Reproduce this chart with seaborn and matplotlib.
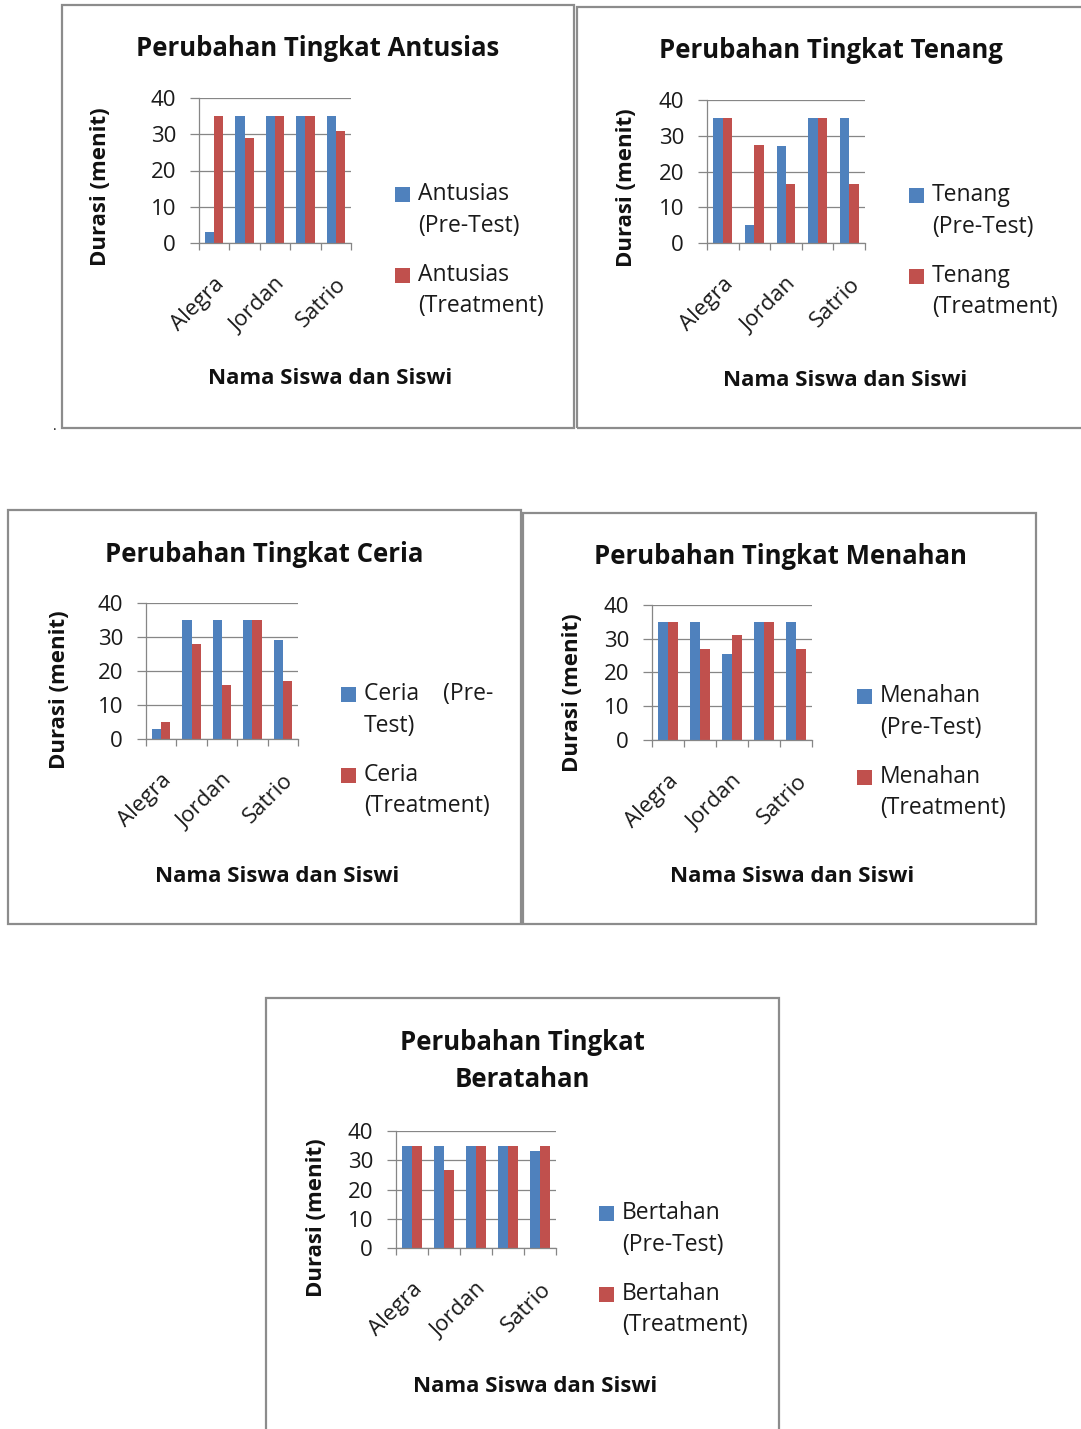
import matplotlib
matplotlib.use("Agg")
import matplotlib.pyplot as plt
import matplotlib.transforms as mtransforms
import seaborn as sns
import pandas as pd
from matplotlib.patches import Rectangle
from matplotlib.legend_handler import HandlerPatch

sns.set_theme(style="white")
plt.rcParams['font.family'] = ['Open Sans', 'DejaVu Sans']

students = ["Alegra", "Siswa 2", "Jordan", "Siswa 4", "Satrio"]
shown_labels = ["Alegra", "", "Jordan", "", "Satrio"]

antusias_pre = [3, 35, 35, 35, 35]
antusias_treat = [35, 29, 35, 35, 31]
tenang_pre = [35, 5, 27, 35, 35]
tenang_treat = [35, 27.5, 16.5, 35, 16.5]
ceria_pre = [3, 35, 35, 35, 29]
ceria_treat = [5, 28, 16, 35, 17]
menahan_pre = [35, 35, 25.5, 35, 35]
menahan_treat = [35, 27, 31, 35, 27]
bertahan_pre = [35, 35, 35, 35, 33]
bertahan_treat = [35, 26.5, 35, 35, 35]

titles = ["Perubahan Tingkat Antusias", "Perubahan Tingkat Tenang",
          "Perubahan Tingkat Ceria", "Perubahan Tingkat Menahan",
          "Perubahan Tingkat\nBeratahan"]
legend_names = [("Antusias\n(Pre-Test)", "Antusias\n(Treatment)"),
                ("Tenang\n(Pre-Test)", "Tenang\n(Treatment)"),
                ("Ceria    (Pre-\nTest)", "Ceria\n(Treatment)"),
                ("Menahan\n(Pre-Test)", "Menahan\n(Treatment)"),
                ("Bertahan\n(Pre-Test)", "Bertahan\n(Treatment)")]
series = [(antusias_pre, antusias_treat), (tenang_pre, tenang_treat),
          (ceria_pre, ceria_treat), (menahan_pre, menahan_treat),
          (bertahan_pre, bertahan_treat)]

W, H = 1081, 1429
fig = plt.figure(figsize=(W / 100, H / 100), dpi=100)

def fx(x):
    return x / W

def fy(y):
    return 1 - y / H

panels = [
    dict(box=(62, 5, 574, 428), ax=(199, 98, 351, 243), title=(318, 49),
         ylab=(100, 187), xlab=(330, 379), leg=(395, 182)),
    dict(box=(577, 7, 1085, 428), ax=(707, 100, 865, 243), title=(831, 51),
         ylab=(627, 188), xlab=(845, 381), leg=(909, 183)),
    dict(box=(8, 510, 521, 924), ax=(146, 603, 298, 739), title=(264, 554),
         ylab=(60, 690), xlab=(277, 876), leg=(341, 682)),
    dict(box=(523, 513, 1036, 924), ax=(652, 605, 812, 740), title=(780, 557),
         ylab=(573, 693), xlab=(792, 877), leg=(857, 684)),
    dict(box=(266, 998, 779, 1440), ax=(396, 1131, 556, 1248), title=(522, 1061),
         ylab=(317, 1218), xlab=(535, 1386), leg=(599, 1201)),
]

blue = "#4F81BD"
red = "#C0504D"
grid_c = "#868686"
FS = 16
SHIFT = 11.5  # points: align legend square with first label line


def top_line_patch(legend, orig_handle, xdescent, ydescent, width, height, fontsize):
    return Rectangle((-xdescent, -ydescent + SHIFT), width, height)


for i, p in enumerate(panels):
    bx0, by0, bx1, by1 = p["box"]
    fig.patches.append(Rectangle((fx(bx0), fy(by1)), fx(bx1 - bx0), (by1 - by0) / H,
                                 transform=fig.transFigure, fill=False,
                                 edgecolor="#8c8c8c", linewidth=1.6, zorder=0))
    ax0, ay0, ax1, ay1 = p["ax"]
    ax = fig.add_axes([fx(ax0), fy(ay1), fx(ax1 - ax0), (ay1 - ay0) / H])
    pre, treat = series[i]
    lp, lt = legend_names[i]
    df = pd.DataFrame({
        "Siswa": students * 2,
        "Durasi": list(pre) + list(treat),
        "Seri": [lp] * len(students) + [lt] * len(students),
    })
    sns.barplot(data=df, x="Siswa", y="Durasi", hue="Seri", order=students,
                hue_order=[lp, lt], palette=[blue, red], width=0.6, gap=0,
                saturation=1, ax=ax, legend=True, linewidth=0)
    ax.set_ylim(0, 40)
    ax.set_xlim(-0.5, len(students) - 0.5)
    ax.set_yticks([0, 10, 20, 30, 40])
    ax.yaxis.grid(True, color=grid_c, linewidth=0.9)
    ax.set_axisbelow(True)
    for s in ["top", "right"]:
        ax.spines[s].set_visible(False)
    for s in ["left", "bottom"]:
        ax.spines[s].set_color(grid_c)
        ax.spines[s].set_linewidth(0.9)
    ax.set_xticks(range(len(students)))
    ax.set_xticklabels(shown_labels, rotation=45, ha="right", rotation_mode="anchor",
                       fontsize=FS, color="#1a1a1a")
    offset = mtransforms.ScaledTranslation(-4 / 100, 0, fig.dpi_scale_trans)
    for lab in ax.get_xticklabels():
        lab.set_transform(lab.get_transform() + offset)
    ax.set_xticks([k - 0.5 for k in range(len(students) + 1)], minor=True)
    ax.tick_params(axis="x", which="major", length=0, pad=22)
    ax.tick_params(axis="x", which="minor", length=5, color=grid_c, width=0.9,
                   direction="out", bottom=True)
    ax.tick_params(axis="y", length=6.5, color=grid_c, width=0.9, direction="out",
                   left=True, labelsize=FS, labelcolor="#1a1a1a", pad=10)
    ax.set_xlabel("")
    ax.set_ylabel("")
    fig.text(fx(p["title"][0]), fy(p["title"][1]), titles[i], ha="center",
             va="center", fontsize=18.5, fontweight="bold", color="#111111",
             linespacing=1.45)
    fig.text(fx(p["ylab"][0]), fy(p["ylab"][1]), "Durasi (menit)", ha="center",
             va="center", rotation=90, fontsize=FS, fontweight="bold", color="#111111")
    fig.text(fx(p["xlab"][0]), fy(p["xlab"][1]), "Nama Siswa dan Siswi", ha="center",
             va="center", fontsize=FS, fontweight="bold", color="#111111")
    handles, labels = ax.get_legend_handles_labels()
    if ax.legend_:
        ax.legend_.remove()
    hmap = {h: HandlerPatch(patch_func=top_line_patch) for h in handles}
    leg = ax.legend(handles, labels, loc="upper left",
                    bbox_to_anchor=(fx(p["leg"][0]), fy(p["leg"][1])),
                    bbox_transform=fig.transFigure, frameon=False,
                    handlelength=0.65, handleheight=0.65, handletextpad=0.35,
                    labelspacing=1.1, borderpad=0, borderaxespad=0,
                    fontsize=16.5, handler_map=hmap)
    for t in leg.get_texts():
        t.set_linespacing(1.42)
        t.set_color("#1a1a1a")

fig.text(fx(55), fy(426), ".", fontsize=10, color="#111111", ha="center", va="center")

fig.savefig("out.png", dpi=100, facecolor="white")
